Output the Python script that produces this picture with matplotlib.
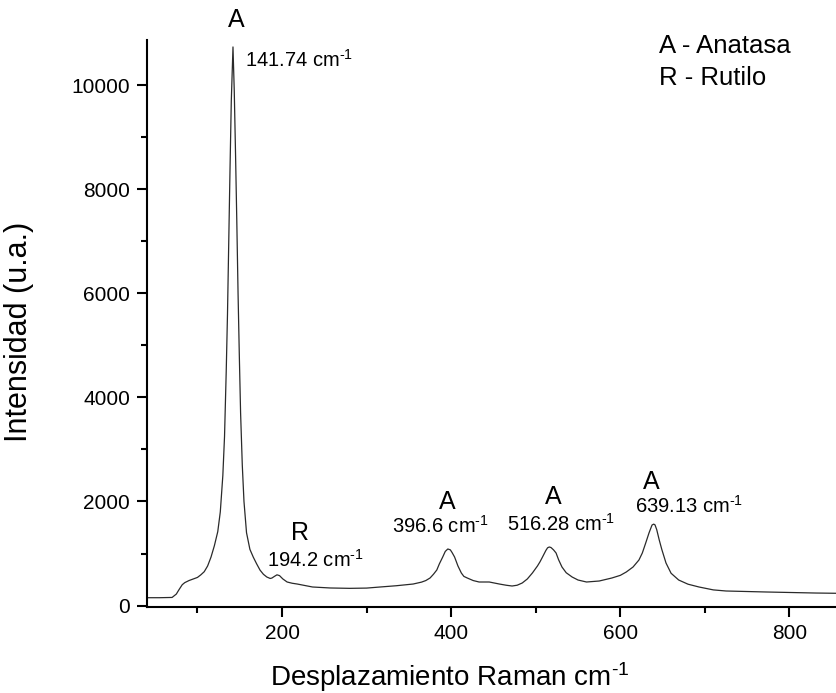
import matplotlib.pyplot as plt
from matplotlib.ticker import MultipleLocator

plt.rcParams['font.family'] = ['Liberation Sans', 'DejaVu Sans']
plt.rcParams['mathtext.fontset'] = 'custom'
plt.rcParams['mathtext.rm'] = 'Liberation Sans'
plt.rcParams['mathtext.default'] = 'regular'

# Raman spectrum
shift = [40, 55, 70, 75, 78, 82, 85, 90, 95, 100, 104, 108, 112, 116, 120, 124, 127, 130,
         132, 134, 135.5, 137, 138.5, 140, 142, 143.5, 145, 146.5, 148, 149.5, 151, 153,
         155, 158, 162, 166, 170, 174, 178, 182, 186, 188, 191, 194, 197, 201, 206, 212,
         218, 236, 257, 280, 300, 316, 335, 355, 365, 370, 375, 379, 383, 386, 390, 393,
         396, 399, 401, 404, 408, 412, 415, 419, 426, 433, 445, 457, 465, 472, 478, 484,
         490, 496, 502, 505, 508, 512, 514, 516, 518, 521, 524, 527, 531, 536, 543, 550,
         560, 575, 590, 600, 607, 615, 622, 626, 630, 634, 637.5, 639.5, 641, 643, 646,
         649, 654, 660, 669, 680, 693, 710, 725, 772, 831, 855]
intensity = [150, 150, 155, 220, 300, 400, 440, 480, 510, 540, 590, 650, 760, 930, 1150,
             1420, 1800, 2500, 3250, 4500, 5600, 7000, 8400, 9700, 10740, 9900, 8700, 7400,
             6000, 4800, 3700, 2700, 2000, 1400, 1080, 930, 800, 680, 600, 548, 520, 528,
             560, 590, 575, 510, 452, 428, 413, 356, 337, 330, 335, 356, 380, 413, 450, 480,
             529, 600, 683, 800, 933, 1040, 1087, 1070, 1020, 933, 760, 625, 560, 529, 480,
             452, 452, 413, 390, 375, 390, 433, 510, 625, 760, 840, 933, 1060, 1110, 1125,
             1115, 1070, 1010, 880, 740, 630, 548, 490, 452, 471, 529, 580, 644, 740, 875,
             1010, 1202, 1400, 1548, 1565, 1550, 1460, 1260, 1080, 817, 620, 490, 410, 356,
             300, 279, 260, 240, 235]

# peak labels
phase_letters = ['A', 'R', 'A', 'A', 'A']
letter_x = [145.8, 221, 395, 521, 636]
letter_y = [11260, 1394, 1990, 2087, 2375]
sup = '$^{\\text{-1}}$'
peak_texts = ['141.74 cm' + sup, '194.2 cm' + sup, '396.6 cm' + sup,
              '516.28 cm' + sup, '639.13 cm' + sup]
peak_x = [156.4, 239, 387.5, 530, 681]
peak_y = [10490, 875, 1530, 1570, 1913]
peak_ha = ['left', 'center', 'center', 'center', 'center']

key_lines = ['A - Anatasa', 'R - Rutilo']

fig = plt.figure(figsize=(8.36, 6.93), dpi=100)
ax = fig.add_axes([0.1755, 0.124, 0.8245, 0.818])

ax.plot(shift, intensity, color='#2a2a2a', linewidth=0.9)

ax.set_xlim(40, 855)
ax.set_ylim(-30, 10870)
ax.xaxis.set_major_locator(MultipleLocator(200))
ax.xaxis.set_minor_locator(MultipleLocator(100))
ax.yaxis.set_major_locator(MultipleLocator(2000))
ax.yaxis.set_minor_locator(MultipleLocator(1000))

for s in ['top', 'right']:
    ax.spines[s].set_visible(False)
for s in ['left', 'bottom']:
    ax.spines[s].set_linewidth(1.5)
ax.tick_params(which='major', direction='out', length=7, width=1.5, labelsize=15, pad=5)
ax.tick_params(which='minor', direction='out', length=4, width=1.5)

ax.set_xlabel('Desplazamiento Raman cm' + sup, fontsize=20)
ax.xaxis.set_label_coords(0.44, -0.093)
ax.set_ylabel('Intensidad (u.a.)', fontsize=22)
ax.yaxis.set_label_coords(-0.163, 0.485)

for i in range(len(phase_letters)):
    ax.text(letter_x[i], letter_y[i], phase_letters[i], fontsize=18,
            ha='center', va='center', clip_on=False)
    ax.text(peak_x[i], peak_y[i], peak_texts[i], fontsize=14.5,
            ha=peak_ha[i], va='center')

ax.text(645.8, 10760, key_lines[0], fontsize=18.5, va='center')
ax.text(645.8, 10144, key_lines[1], fontsize=18.5, va='center')

fig.savefig('out.png', dpi=100)
